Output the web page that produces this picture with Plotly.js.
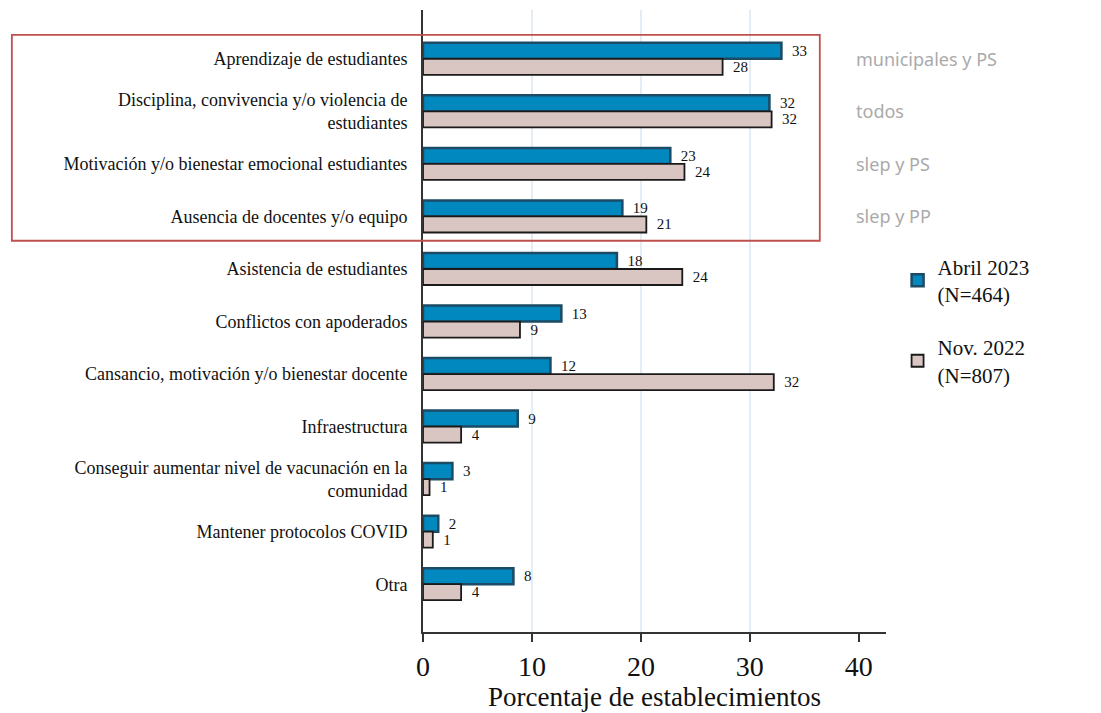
<!DOCTYPE html>
<html>
<head>
<meta charset="utf-8">
<script src="https://cdn.plot.ly/plotly-3.0.1.min.js"></script>
<style>html,body{margin:0;padding:0;background:#fff;}#chart{width:1101px;height:713px;}</style>
</head>
<body>
<div id="chart"></div>
<script>
const categories = [
  "Aprendizaje de estudiantes",
  "Disciplina, convivencia y/o violencia de<br>estudiantes",
  "Motivación y/o bienestar emocional estudiantes",
  "Ausencia de docentes y/o equipo",
  "Asistencia de estudiantes",
  "Conflictos con apoderados",
  "Cansancio, motivación y/o bienestar docente",
  "Infraestructura",
  "Conseguir aumentar nivel de vacunación en la<br>comunidad",
  "Mantener protocolos COVID",
  "Otra"
];
const abril2023 = [32.9, 31.8, 22.7, 18.3, 17.8, 12.7, 11.7, 8.7, 2.7, 1.4, 8.3];
const abril2023Labels = ["33", "32", "23", "19", "18", "13", "12", "9", "3", "2", "8"];
const nov2022 = [27.5, 32.0, 24.0, 20.5, 23.8, 8.9, 32.2, 3.5, 0.6, 0.9, 3.5];
const nov2022Labels = ["28", "32", "24", "21", "24", "9", "32", "4", "1", "1", "4"];
const seriesNames = ["Abril 2023<br>(N=464)", "Nov. 2022<br>(N=807)"];
const sideNotes = ["municipales y PS", "todos", "slep y PS", "slep y PP"];
const xTicks = [0, 10, 20, 30, 40];
const gridTicks = [10, 20, 30];

const serif = "'Liberation Serif', 'Times New Roman', serif";

const traces = [
  {
    type: "bar", orientation: "h", name: seriesNames[0], legendgroup: "a",
    y: categories, x: abril2023, text: abril2023Labels, texttemplate: "  %{text}",
    textposition: "outside", cliponaxis: false,
    textfont: {family: serif, size: 15, color: "#111"},
    marker: {color: "#0088bf", line: {color: "#1d4a64", width: 2.5}},
    hoverinfo: "x+y"
  },
  {
    type: "bar", orientation: "h", name: seriesNames[1], legendgroup: "b",
    y: categories, x: nov2022, text: nov2022Labels, texttemplate: "  %{text}",
    textposition: "outside", cliponaxis: false,
    textfont: {family: serif, size: 15, color: "#111"},
    marker: {color: "#d9c6c2", line: {color: "#1a1a1a", width: 1.8}},
    hoverinfo: "x+y"
  },
  {
    type: "scatter", mode: "markers", x: [], y: [], xaxis: "x2", yaxis: "y",
    showlegend: false, hoverinfo: "skip"
  }
];

const annotations = sideNotes.map((t, i) => ({
  text: t, xref: "paper", yref: "y", x: 0.93, y: categories[i],
  xanchor: "left", yanchor: "middle", showarrow: false,
  font: {family: "'Noto Sans', 'Open Sans', sans-serif", size: 18, color: "#aaaaaa"}
}));

const layout = {
  width: 1101, height: 713,
  margin: {l: 423, r: 215, t: 10, b: 81},
  paper_bgcolor: "#fff", plot_bgcolor: "rgba(0,0,0,0)",
  barmode: "group", bargap: 0.39, bargroupgap: 0,
  font: {family: serif, color: "#111"},
  xaxis: {
    range: [0, 42.5], tickvals: xTicks, showgrid: false, zeroline: false,
    showline: true, linecolor: "#333", linewidth: 2,
    ticks: "outside", ticklen: 8, tickwidth: 2, tickcolor: "#333",
    tickfont: {family: serif, size: 28, color: "#111"},
    title: {text: "Porcentaje de establecimientos", font: {family: serif, size: 27, color: "#111"}, standoff: 0},
    fixedrange: true
  },
  xaxis2: {
    overlaying: "x", range: [0, 42.5], tickvals: gridTicks, showgrid: true,
    gridcolor: "#e4edf3", gridwidth: 1.5, showticklabels: false, ticks: "",
    zeroline: false, showline: false, side: "bottom", layer: "below traces"
  },
  yaxis: {
    type: "category", range: [10.91, -0.93], showgrid: false, zeroline: false,
    showline: true, linecolor: "#333", linewidth: 2, ticks: "",
    ticklabelstandoff: 10,
    tickfont: {family: serif, size: 18, color: "#111"},
    fixedrange: true
  },
  showlegend: true,
  legend: {
    x: 1.025, y: 0.62, xanchor: "left", yanchor: "top",
    font: {family: serif, size: 21, color: "#111"},
    traceorder: "grouped", tracegroupgap: 23, bgcolor: "rgba(0,0,0,0)",
    itemwidth: 30
  },
  annotations: annotations,
  shapes: [{
    type: "rect", xref: "paper", yref: "paper",
    x0: -0.888, x1: 0.857, y0: 0.629, y1: 0.960,
    line: {color: "#c0504d", width: 1.8}, fillcolor: "rgba(0,0,0,0)"
  }]
};

Plotly.newPlot("chart", traces, layout, {displayModeBar: false, staticPlot: true});
</script>
</body>
</html>
